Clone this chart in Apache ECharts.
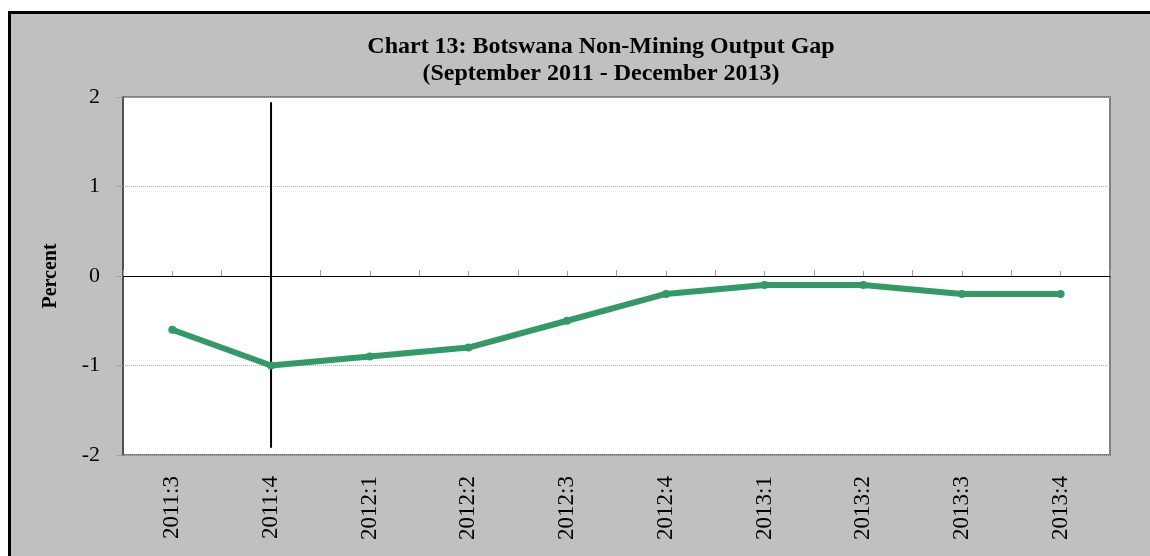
<!DOCTYPE html>
<html>
<head>
<meta charset="utf-8">
<script src="https://cdn.jsdelivr.net/npm/echarts@6/dist/echarts.min.js"></script>
<style>html,body{margin:0;padding:0;background:#fff}#c{width:1150px;height:556px}</style>
</head>
<body>
<div id="c"></div>
<script>
const categories = ['2011:3','2011:4','2012:1','2012:2','2012:3','2012:4','2013:1','2013:2','2013:3','2013:4'];
const outputGap = [-0.6, -1.0, -0.9, -0.8, -0.5, -0.2, -0.1, -0.1, -0.2, -0.2];
const dividerCategory = '2011:4';
const dividerValues = [1.94, -1.92];
const yTicks = [-2, -1, 0, 1, 2];

const serif = '"Liberation Serif", "Times New Roman", serif';
const chart = echarts.init(document.getElementById('c'), null, {renderer: 'canvas'});
chart.setOption({
  backgroundColor: '#ffffff',
  animation: false,
  graphic: [{
    type: 'rect', z: -10, silent: true,
    shape: {x: 9.5, y: 12.5, width: 1200, height: 600},
    style: {fill: '#c0c0c0', stroke: '#000000', lineWidth: 3}
  }],
  title: {
    text: 'Chart 13: Botswana Non-Mining Output Gap\n(September 2011 - December 2013)',
    left: 596, top: 28, textAlign: 'center',
    textStyle: {fontFamily: serif, fontWeight: 'bold', fontSize: 24, lineHeight: 27, color: '#000'}
  },
  grid: {
    left: 123, top: 97, right: 40, bottom: 101,
    show: true, backgroundColor: '#ffffff', borderColor: '#808080', borderWidth: 2
  },
  xAxis: [{
    type: 'category', data: categories, boundaryGap: true,
    axisLine: {show: true, onZero: true, onZeroAxisIndex: 0, lineStyle: {color: '#000', width: 1}},
    axisTick: {show: true, alignWithLabel: true, inside: true, length: 5, lineStyle: {color: '#a0a0a0'}},
    axisLabel: {show: false}, splitLine: {show: false}
  }, {
    type: 'category', data: categories, boundaryGap: true,
    axisLine: {show: false, onZero: true, onZeroAxisIndex: 0},
    axisTick: {show: true, inside: false, length: 6, lineStyle: {color: '#a0a0a0'}},
    axisLabel: {show: false}, splitLine: {show: false}
  }, {
    type: 'category', data: categories, boundaryGap: true, position: 'bottom',
    axisLine: {show: false, onZero: false},
    axisTick: {show: false},
    axisLabel: {show: true, rotate: 90, margin: 21, fontFamily: serif, fontSize: 23, color: '#000', interval: 0},
    splitLine: {show: false}
  }],
  yAxis: [{
    type: 'value', min: yTicks[0], max: yTicks[yTicks.length - 1], interval: 1,
    name: 'Percent', nameLocation: 'middle', nameGap: 62, nameRotate: 90,
    nameTextStyle: {fontFamily: serif, fontWeight: 'bold', fontSize: 20, color: '#000'},
    axisLine: {show: true, lineStyle: {color: '#404040', width: 1.5}},
    axisTick: {show: true, length: 6, lineStyle: {color: '#a0a0a0'}},
    axisLabel: {margin: 23, fontFamily: serif, fontSize: 22, color: '#000'},
    splitLine: {show: true, lineStyle: {color: '#b0b0b0', type: 'dotted', width: 1}}
  }],
  series: [{
    type: 'line', name: 'divider', xAxisIndex: 0,
    data: dividerValues.map(v => [dividerCategory, v]),
    symbol: 'none', lineStyle: {color: '#000', width: 2}, z: 3
  }, {
    type: 'line', name: 'Output gap', xAxisIndex: 0, data: outputGap,
    symbol: 'circle', symbolSize: 8,
    itemStyle: {color: '#339966'},
    lineStyle: {color: '#339966', width: 6}, z: 4
  }]
});
</script>
</body>
</html>
